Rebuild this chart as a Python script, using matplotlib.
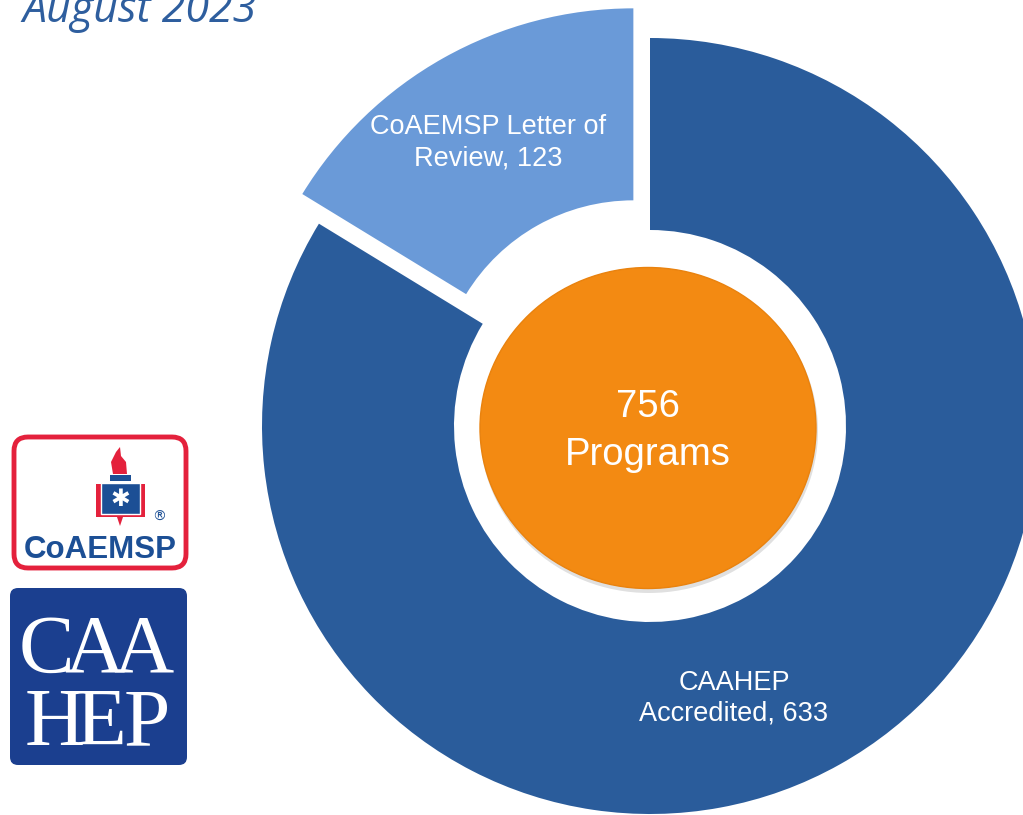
import matplotlib.pyplot as plt
from matplotlib.patches import Ellipse, FancyBboxPatch, Rectangle, Polygon

# data
categories = ['CoAEMSP Letter of\nReview', 'CAAHEP\nAccredited']
counts = [123, 633]
colors = ['#6A9AD8', '#2A5C9B']
total = sum(counts)

W, H = 1023, 815
fig = plt.figure(figsize=(W / 100, H / 100), dpi=100)
ax = fig.add_axes([0, 0, 1, 1])

# pie geometry in pixels (y up)
cx, cy = 650, 389
r_out, r_in = 388, 196

# explode is in data units here (pixels)
wedges, _ = ax.pie(counts, colors=colors, radius=r_out, center=(cx, cy),
                   startangle=90, counterclock=True, explode=[34, 0],
                   wedgeprops=dict(width=r_out - r_in, linewidth=0),
                   frame=True)

ax.set_xlim(0, W)
ax.set_ylim(0, H)
ax.set_aspect('equal')
ax.axis('off')

lab_font = dict(color='white', fontsize=19.5, family='Liberation Sans',
                ha='center', va='center', linespacing=1.25)
ax.text(488, H - 143, f'{categories[0]}, {counts[0]}', **lab_font)
ax.text(734, H - 698, f'{categories[1]}, {counts[1]}', **lab_font)

# center disc
ax.add_patch(Ellipse((649, H - 431), 338, 324, color='#000000', alpha=0.12, lw=0))
ax.add_patch(Ellipse((648, H - 428), 336, 321, facecolor='#F38A12',
                     edgecolor='#E9820E', lw=1))
ax.text(648, H - 431, f'{total}\nPrograms', color='white', fontsize=27.5,
        family='Liberation Sans', ha='center', va='center', linespacing=1.45)

# title (cut off at top)
ax.text(22, H - 22, 'August 2023', color='#2E5E9E', fontsize=31,
        family='Open Sans', style='italic', ha='left', va='baseline')

# CoAEMSP logo
ax.add_patch(FancyBboxPatch((14, H - 568), 172, 131,
                            boxstyle='round,pad=0,rounding_size=14',
                            facecolor='white', edgecolor='#E4213C', lw=3.5))
ax.text(100, H - 558, 'CoAEMSP', color='#1C4F95', fontsize=22.5, weight='bold',
        family='Liberation Sans', ha='center', va='baseline')
ax.text(159, H - 517, '®', color='#1C4F95', fontsize=10, ha='center', va='center')
# emblem: flame, stem, book shield, star of life
ax.add_patch(Polygon([(113, H - 474), (111, H - 462), (116, H - 452), (120, H - 447),
                      (121, H - 456), (126, H - 462), (127, H - 474)],
                     closed=True, facecolor='#E4213C', lw=0))
ax.add_patch(Rectangle((110, H - 481), 21, 6, facecolor='#1C4F95', lw=0))
ax.add_patch(Polygon([(96, H - 484), (145, H - 484), (145, H - 517), (123, H - 517),
                      (120, H - 526), (117, H - 517), (96, H - 517)],
                     closed=True, facecolor='#E4213C', lw=0))
ax.add_patch(Rectangle((101, H - 514), 39, 31, facecolor='#1C4F95',
                       edgecolor='white', lw=1))
ax.text(120.5, H - 499, '✱', color='white', fontsize=17, family='DejaVu Sans',
        ha='center', va='center')

# CAAHEP logo
ax.add_patch(FancyBboxPatch((10, H - 765), 177, 177,
                            boxstyle='round,pad=0,rounding_size=8',
                            facecolor='#1B3F8F', edgecolor='none'))
serif = dict(color='white', fontsize=60, family='Liberation Serif',
             ha='center', va='baseline')
for ch, x in zip('CAA', [46, 94, 143]):
    ax.text(x, H - 672, ch, **serif)
for ch, x in zip('HEP', [55, 101, 147]):
    ax.text(x, H - 745, ch, **serif)

fig.savefig('out.png', dpi=100)
